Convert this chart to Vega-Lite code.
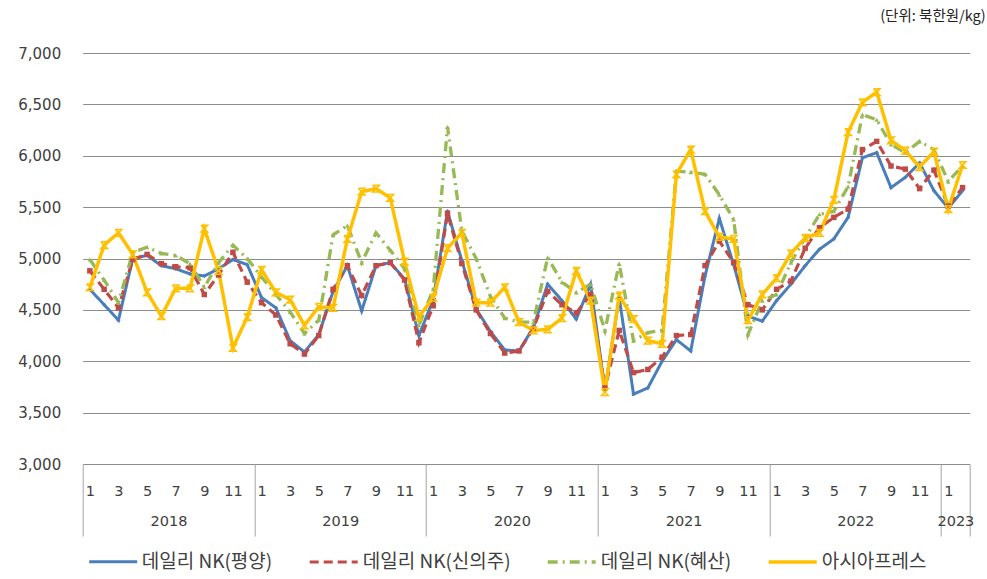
{
 "$schema": "https://vega.github.io/schema/vega-lite/v6.json",
 "width": 887, "height": 411,
 "autosize": {"type": "none"},
 "padding": {"left": 82.7, "top": 53, "right": 17.3, "bottom": 115},
 "background": "white",
 "title": {"text": "(단위:  북한원/kg)", "anchor": "end", "frame": "group", "offset": 22, "dx": 16, "fontSize": 14.5, "font": "Noto Sans CJK KR", "fontWeight": "normal", "color": "#222222"},
 "config": {"view": {"stroke": null}, "font": "DejaVu Sans",
   "axisY": {"grid": true, "gridColor": "#8c8c8c", "gridWidth": 1, "domain": false, "ticks": false, "labelPadding": 22, "labelFontSize": 15, "labelColor": "#404040", "format": ",d", "title": null}},
 "datasets": {
  "d": [
{"t":0,"s":"데일리 NK(평양)","v":4700},{"t":1,"s":"데일리 NK(평양)","v":4550},{"t":2,"s":"데일리 NK(평양)","v":4400},{"t":3,"s":"데일리 NK(평양)","v":5000},{"t":4,"s":"데일리 NK(평양)","v":5030},{"t":5,"s":"데일리 NK(평양)","v":4930},{"t":6,"s":"데일리 NK(평양)","v":4900},{"t":7,"s":"데일리 NK(평양)","v":4850},{"t":8,"s":"데일리 NK(평양)","v":4830},{"t":9,"s":"데일리 NK(평양)","v":4900},{"t":10,"s":"데일리 NK(평양)","v":4990},{"t":11,"s":"데일리 NK(평양)","v":4940},
{"t":12,"s":"데일리 NK(평양)","v":4620},{"t":13,"s":"데일리 NK(평양)","v":4520},{"t":14,"s":"데일리 NK(평양)","v":4200},{"t":15,"s":"데일리 NK(평양)","v":4090},{"t":16,"s":"데일리 NK(평양)","v":4260},{"t":17,"s":"데일리 NK(평양)","v":4680},{"t":18,"s":"데일리 NK(평양)","v":4930},{"t":19,"s":"데일리 NK(평양)","v":4490},{"t":20,"s":"데일리 NK(평양)","v":4930},{"t":21,"s":"데일리 NK(평양)","v":4960},{"t":22,"s":"데일리 NK(평양)","v":4800},{"t":23,"s":"데일리 NK(평양)","v":4250},
{"t":24,"s":"데일리 NK(평양)","v":4600},{"t":25,"s":"데일리 NK(평양)","v":5460},{"t":26,"s":"데일리 NK(평양)","v":4980},{"t":27,"s":"데일리 NK(평양)","v":4510},{"t":28,"s":"데일리 NK(평양)","v":4290},{"t":29,"s":"데일리 NK(평양)","v":4110},{"t":30,"s":"데일리 NK(평양)","v":4100},{"t":31,"s":"데일리 NK(평양)","v":4330},{"t":32,"s":"데일리 NK(평양)","v":4750},{"t":33,"s":"데일리 NK(평양)","v":4590},{"t":34,"s":"데일리 NK(평양)","v":4410},{"t":35,"s":"데일리 NK(평양)","v":4750},
{"t":36,"s":"데일리 NK(평양)","v":3720},{"t":37,"s":"데일리 NK(평양)","v":4620},{"t":38,"s":"데일리 NK(평양)","v":3680},{"t":39,"s":"데일리 NK(평양)","v":3740},{"t":40,"s":"데일리 NK(평양)","v":4000},{"t":41,"s":"데일리 NK(평양)","v":4210},{"t":42,"s":"데일리 NK(평양)","v":4100},{"t":43,"s":"데일리 NK(평양)","v":4830},{"t":44,"s":"데일리 NK(평양)","v":5390},{"t":45,"s":"데일리 NK(평양)","v":4940},{"t":46,"s":"데일리 NK(평양)","v":4440},{"t":47,"s":"데일리 NK(평양)","v":4390},
{"t":48,"s":"데일리 NK(평양)","v":4590},{"t":49,"s":"데일리 NK(평양)","v":4750},{"t":50,"s":"데일리 NK(평양)","v":4930},{"t":51,"s":"데일리 NK(평양)","v":5090},{"t":52,"s":"데일리 NK(평양)","v":5190},{"t":53,"s":"데일리 NK(평양)","v":5400},{"t":54,"s":"데일리 NK(평양)","v":5980},{"t":55,"s":"데일리 NK(평양)","v":6030},{"t":56,"s":"데일리 NK(평양)","v":5690},{"t":57,"s":"데일리 NK(평양)","v":5790},{"t":58,"s":"데일리 NK(평양)","v":5930},{"t":59,"s":"데일리 NK(평양)","v":5660},
{"t":60,"s":"데일리 NK(평양)","v":5490},{"t":61,"s":"데일리 NK(평양)","v":5660},
{"t":0,"s":"데일리 NK(신의주)","v":4880},{"t":1,"s":"데일리 NK(신의주)","v":4700},{"t":2,"s":"데일리 NK(신의주)","v":4520},{"t":3,"s":"데일리 NK(신의주)","v":4990},{"t":4,"s":"데일리 NK(신의주)","v":5040},{"t":5,"s":"데일리 NK(신의주)","v":4950},{"t":6,"s":"데일리 NK(신의주)","v":4920},{"t":7,"s":"데일리 NK(신의주)","v":4910},{"t":8,"s":"데일리 NK(신의주)","v":4650},{"t":9,"s":"데일리 NK(신의주)","v":4840},{"t":10,"s":"데일리 NK(신의주)","v":5060},{"t":11,"s":"데일리 NK(신의주)","v":4770},
{"t":12,"s":"데일리 NK(신의주)","v":4570},{"t":13,"s":"데일리 NK(신의주)","v":4450},{"t":14,"s":"데일리 NK(신의주)","v":4170},{"t":15,"s":"데일리 NK(신의주)","v":4070},{"t":16,"s":"데일리 NK(신의주)","v":4250},{"t":17,"s":"데일리 NK(신의주)","v":4700},{"t":18,"s":"데일리 NK(신의주)","v":4930},{"t":19,"s":"데일리 NK(신의주)","v":4640},{"t":20,"s":"데일리 NK(신의주)","v":4930},{"t":21,"s":"데일리 NK(신의주)","v":4960},{"t":22,"s":"데일리 NK(신의주)","v":4790},{"t":23,"s":"데일리 NK(신의주)","v":4180},
{"t":24,"s":"데일리 NK(신의주)","v":4540},{"t":25,"s":"데일리 NK(신의주)","v":5440},{"t":26,"s":"데일리 NK(신의주)","v":4950},{"t":27,"s":"데일리 NK(신의주)","v":4500},{"t":28,"s":"데일리 NK(신의주)","v":4270},{"t":29,"s":"데일리 NK(신의주)","v":4080},{"t":30,"s":"데일리 NK(신의주)","v":4100},{"t":31,"s":"데일리 NK(신의주)","v":4320},{"t":32,"s":"데일리 NK(신의주)","v":4680},{"t":33,"s":"데일리 NK(신의주)","v":4550},{"t":34,"s":"데일리 NK(신의주)","v":4470},{"t":35,"s":"데일리 NK(신의주)","v":4650},
{"t":36,"s":"데일리 NK(신의주)","v":3740},{"t":37,"s":"데일리 NK(신의주)","v":4300},{"t":38,"s":"데일리 NK(신의주)","v":3890},{"t":39,"s":"데일리 NK(신의주)","v":3920},{"t":40,"s":"데일리 NK(신의주)","v":4040},{"t":41,"s":"데일리 NK(신의주)","v":4250},{"t":42,"s":"데일리 NK(신의주)","v":4260},{"t":43,"s":"데일리 NK(신의주)","v":4930},{"t":44,"s":"데일리 NK(신의주)","v":5170},{"t":45,"s":"데일리 NK(신의주)","v":4960},{"t":46,"s":"데일리 NK(신의주)","v":4550},{"t":47,"s":"데일리 NK(신의주)","v":4500},
{"t":48,"s":"데일리 NK(신의주)","v":4700},{"t":49,"s":"데일리 NK(신의주)","v":4780},{"t":50,"s":"데일리 NK(신의주)","v":5100},{"t":51,"s":"데일리 NK(신의주)","v":5300},{"t":52,"s":"데일리 NK(신의주)","v":5400},{"t":53,"s":"데일리 NK(신의주)","v":5480},{"t":54,"s":"데일리 NK(신의주)","v":6060},{"t":55,"s":"데일리 NK(신의주)","v":6140},{"t":56,"s":"데일리 NK(신의주)","v":5900},{"t":57,"s":"데일리 NK(신의주)","v":5870},{"t":58,"s":"데일리 NK(신의주)","v":5680},{"t":59,"s":"데일리 NK(신의주)","v":5860},
{"t":60,"s":"데일리 NK(신의주)","v":5510},{"t":61,"s":"데일리 NK(신의주)","v":5690},
{"t":0,"s":"데일리 NK(혜산)","v":4990},{"t":1,"s":"데일리 NK(혜산)","v":4790},{"t":2,"s":"데일리 NK(혜산)","v":4570},{"t":3,"s":"데일리 NK(혜산)","v":5060},{"t":4,"s":"데일리 NK(혜산)","v":5110},{"t":5,"s":"데일리 NK(혜산)","v":5050},{"t":6,"s":"데일리 NK(혜산)","v":5030},{"t":7,"s":"데일리 NK(혜산)","v":4950},{"t":8,"s":"데일리 NK(혜산)","v":4720},{"t":9,"s":"데일리 NK(혜산)","v":4960},{"t":10,"s":"데일리 NK(혜산)","v":5130},{"t":11,"s":"데일리 NK(혜산)","v":5000},
{"t":12,"s":"데일리 NK(혜산)","v":4820},{"t":13,"s":"데일리 NK(혜산)","v":4650},{"t":14,"s":"데일리 NK(혜산)","v":4480},{"t":15,"s":"데일리 NK(혜산)","v":4270},{"t":16,"s":"데일리 NK(혜산)","v":4400},{"t":17,"s":"데일리 NK(혜산)","v":5230},{"t":18,"s":"데일리 NK(혜산)","v":5320},{"t":19,"s":"데일리 NK(혜산)","v":4960},{"t":20,"s":"데일리 NK(혜산)","v":5250},{"t":21,"s":"데일리 NK(혜산)","v":5080},{"t":22,"s":"데일리 NK(혜산)","v":4900},{"t":23,"s":"데일리 NK(혜산)","v":4350},
{"t":24,"s":"데일리 NK(혜산)","v":4700},{"t":25,"s":"데일리 NK(혜산)","v":6280},{"t":26,"s":"데일리 NK(혜산)","v":5270},{"t":27,"s":"데일리 NK(혜산)","v":5000},{"t":28,"s":"데일리 NK(혜산)","v":4630},{"t":29,"s":"데일리 NK(혜산)","v":4420},{"t":30,"s":"데일리 NK(혜산)","v":4380},{"t":31,"s":"데일리 NK(혜산)","v":4380},{"t":32,"s":"데일리 NK(혜산)","v":5010},{"t":33,"s":"데일리 NK(혜산)","v":4770},{"t":34,"s":"데일리 NK(혜산)","v":4670},{"t":35,"s":"데일리 NK(혜산)","v":4750},
{"t":36,"s":"데일리 NK(혜산)","v":4300},{"t":37,"s":"데일리 NK(혜산)","v":4950},{"t":38,"s":"데일리 NK(혜산)","v":4200},{"t":39,"s":"데일리 NK(혜산)","v":4280},{"t":40,"s":"데일리 NK(혜산)","v":4300},{"t":41,"s":"데일리 NK(혜산)","v":5850},{"t":42,"s":"데일리 NK(혜산)","v":5840},{"t":43,"s":"데일리 NK(혜산)","v":5820},{"t":44,"s":"데일리 NK(혜산)","v":5620},{"t":45,"s":"데일리 NK(혜산)","v":5380},{"t":46,"s":"데일리 NK(혜산)","v":4260},{"t":47,"s":"데일리 NK(혜산)","v":4590},
{"t":48,"s":"데일리 NK(혜산)","v":4650},{"t":49,"s":"데일리 NK(혜산)","v":4960},{"t":50,"s":"데일리 NK(혜산)","v":5200},{"t":51,"s":"데일리 NK(혜산)","v":5430},{"t":52,"s":"데일리 NK(혜산)","v":5460},{"t":53,"s":"데일리 NK(혜산)","v":5700},{"t":54,"s":"데일리 NK(혜산)","v":6400},{"t":55,"s":"데일리 NK(혜산)","v":6350},{"t":56,"s":"데일리 NK(혜산)","v":6110},{"t":57,"s":"데일리 NK(혜산)","v":6030},{"t":58,"s":"데일리 NK(혜산)","v":6140},{"t":59,"s":"데일리 NK(혜산)","v":6060},
{"t":60,"s":"데일리 NK(혜산)","v":5750},{"t":61,"s":"데일리 NK(혜산)","v":5900},
{"t":0,"s":"아시아프레스","v":4720},{"t":1,"s":"아시아프레스","v":5130},{"t":2,"s":"아시아프레스","v":5250},{"t":3,"s":"아시아프레스","v":5040},{"t":4,"s":"아시아프레스","v":4670},{"t":5,"s":"아시아프레스","v":4440},{"t":6,"s":"아시아프레스","v":4710},{"t":7,"s":"아시아프레스","v":4710},{"t":8,"s":"아시아프레스","v":5290},{"t":9,"s":"아시아프레스","v":4880},{"t":10,"s":"아시아프레스","v":4130},{"t":11,"s":"아시아프레스","v":4430},
{"t":12,"s":"아시아프레스","v":4890},{"t":13,"s":"아시아프레스","v":4670},{"t":14,"s":"아시아프레스","v":4600},{"t":15,"s":"아시아프레스","v":4350},{"t":16,"s":"아시아프레스","v":4530},{"t":17,"s":"아시아프레스","v":4520},{"t":18,"s":"아시아프레스","v":5190},{"t":19,"s":"아시아프레스","v":5650},{"t":20,"s":"아시아프레스","v":5680},{"t":21,"s":"아시아프레스","v":5590},{"t":22,"s":"아시아프레스","v":4970},{"t":23,"s":"아시아프레스","v":4430},
{"t":24,"s":"아시아프레스","v":4620},{"t":25,"s":"아시아프레스","v":5100},{"t":26,"s":"아시아프레스","v":5250},{"t":27,"s":"아시아프레스","v":4570},{"t":28,"s":"아시아프레스","v":4570},{"t":29,"s":"아시아프레스","v":4720},{"t":30,"s":"아시아프레스","v":4380},{"t":31,"s":"아시아프레스","v":4300},{"t":32,"s":"아시아프레스","v":4310},{"t":33,"s":"아시아프레스","v":4420},{"t":34,"s":"아시아프레스","v":4880},{"t":35,"s":"아시아프레스","v":4590},
{"t":36,"s":"아시아프레스","v":3700},{"t":37,"s":"아시아프레스","v":4640},{"t":38,"s":"아시아프레스","v":4410},{"t":39,"s":"아시아프레스","v":4200},{"t":40,"s":"아시아프레스","v":4170},{"t":41,"s":"아시아프레스","v":5820},{"t":42,"s":"아시아프레스","v":6060},{"t":43,"s":"아시아프레스","v":5460},{"t":44,"s":"아시아프레스","v":5210},{"t":45,"s":"아시아프레스","v":5190},{"t":46,"s":"아시아프레스","v":4400},{"t":47,"s":"아시아프레스","v":4650},
{"t":48,"s":"아시아프레스","v":4810},{"t":49,"s":"아시아프레스","v":5050},{"t":50,"s":"아시아프레스","v":5200},{"t":51,"s":"아시아프레스","v":5250},{"t":52,"s":"아시아프레스","v":5570},{"t":53,"s":"아시아프레스","v":6230},{"t":54,"s":"아시아프레스","v":6520},{"t":55,"s":"아시아프레스","v":6620},{"t":56,"s":"아시아프레스","v":6150},{"t":57,"s":"아시아프레스","v":6050},{"t":58,"s":"아시아프레스","v":5890},{"t":59,"s":"아시아프레스","v":6040},
{"t":60,"s":"아시아프레스","v":5480},{"t":61,"s":"아시아프레스","v":5910}
  ]
 },
 "data": {"name": "d"},
 "layer": [
  {
   "mark": {"type": "line"},
   "encoding": {
    "x": {"field": "t", "type": "ordinal", "scale": {"paddingInner": 0, "paddingOuter": 0},
      "axis": {"orient": "bottom", "domain": false, "ticks": false, "grid": false, "labelAngle": 0, "labelOverlap": false, "labelPadding": 20, "labelFontSize": 14.5, "labelColor": "#404040", "title": null,
        "labelExpr": "(datum.value % 12) % 2 == 0 ? '' + (datum.value % 12 + 1) : ''"}},
    "y": {"field": "v", "type": "quantitative", "scale": {"domain": [3000, 7000], "zero": false, "nice": false},
      "axis": {"values": [3000, 3500, 4000, 4500, 5000, 5500, 6000, 6500, 7000], "title": null}},
    "color": {"field": "s", "type": "nominal",
      "scale": {"domain": ["데일리 NK(평양)", "데일리 NK(신의주)", "데일리 NK(혜산)", "아시아프레스"], "range": ["#4A7EBB", "#BE4B48", "#98B954", "#FFC000"]},
      "legend": {"title": null, "orient": "none", "legendX": 5, "legendY": 483, "direction": "horizontal", "symbolType": "stroke", "symbolSize": 2304, "symbolStrokeWidth": 3, "labelFontSize": 19, "labelFont": "Noto Sans CJK KR", "labelColor": "#404040", "columnPadding": 30, "labelOffset": 3, "labelLimit": 400, "padding": 0}},
    "strokeDash": {"field": "s", "type": "nominal",
      "scale": {"domain": ["데일리 NK(평양)", "데일리 NK(신의주)", "데일리 NK(혜산)", "아시아프레스"], "range": [[1, 0], [9, 5], [10, 5, 2, 5], [1, 0]]},
      "legend": {"title": null, "orient": "none", "legendX": 5, "legendY": 483, "direction": "horizontal", "symbolType": "stroke", "symbolSize": 2304, "symbolStrokeWidth": 3, "labelFontSize": 19, "labelFont": "Noto Sans CJK KR", "labelColor": "#404040", "columnPadding": 30, "labelOffset": 3, "labelLimit": 400, "padding": 0}},
    "strokeWidth": {"field": "s", "type": "ordinal",
      "scale": {"domain": ["데일리 NK(평양)", "데일리 NK(신의주)", "데일리 NK(혜산)", "아시아프레스"], "range": [3, 3.5, 3, 2]}, "legend": null}
   }
  },
  {
   "transform": [{"filter": {"field": "s", "equal": "데일리 NK(평양)"}}],
   "mark": {"type": "point", "shape": "diamond", "filled": true, "size": 18, "color": "#4A7EBB", "opacity": 1},
   "encoding": {"x": {"field": "t", "type": "ordinal", "axis": null}, "y": {"field": "v", "type": "quantitative", "axis": {"title": null}}}
  },
  {
   "transform": [{"filter": {"field": "s", "equal": "데일리 NK(신의주)"}}],
   "mark": {"type": "point", "shape": "square", "filled": true, "size": 30, "color": "#BE4B48", "opacity": 1},
   "encoding": {"x": {"field": "t", "type": "ordinal", "axis": null}, "y": {"field": "v", "type": "quantitative", "axis": {"title": null}}}
  },
  {
   "transform": [{"filter": {"field": "s", "equal": "데일리 NK(혜산)"}}],
   "mark": {"type": "point", "shape": "triangle-up", "filled": true, "size": 22, "color": "#98B954", "opacity": 1},
   "encoding": {"x": {"field": "t", "type": "ordinal", "axis": null}, "y": {"field": "v", "type": "quantitative", "axis": {"title": null}}}
  },
  {
   "transform": [{"filter": {"field": "s", "equal": "아시아프레스"}}],
   "mark": {"type": "point", "shape": "M-1,-1H1L-1,1H1L-1,-1", "filled": false, "size": 45, "strokeWidth": 1.5, "color": "#FFC000", "opacity": 1},
   "encoding": {"x": {"field": "t", "type": "ordinal", "axis": null}, "y": {"field": "v", "type": "quantitative", "axis": {"title": null}}}
  },
  {
   "mark": {"type": "point", "opacity": 0},
   "encoding": {"x": {"field": "t", "type": "ordinal",
     "axis": {"orient": "bottom", "values": [11, 23, 35, 47, 59, 61], "tickOffset": 7.153, "domain": false, "grid": false, "ticks": true, "tickSize": 72, "tickColor": "#a6a6a6", "tickWidth": 1,
       "labelExpr": "'' + (2018 + floor(datum.value / 12))",
       "labelOffset": {"condition": {"test": "datum.value == 61", "value": -14.3}, "value": -85.8},
       "labelPadding": -22, "labelAngle": 0, "labelOverlap": false, "labelFontSize": 14.5, "labelColor": "#404040", "title": null}}}
  },
  {
   "mark": {"type": "point", "opacity": 0},
   "encoding": {"x": {"field": "t", "type": "ordinal",
     "axis": {"orient": "bottom", "values": [0], "tickOffset": -7.153, "domain": false, "grid": false, "ticks": true, "tickSize": 72, "tickColor": "#a6a6a6", "tickWidth": 1, "labels": false, "title": null}}}
  }
 ],
 "resolve": {"axis": {"x": "independent"}}
}
